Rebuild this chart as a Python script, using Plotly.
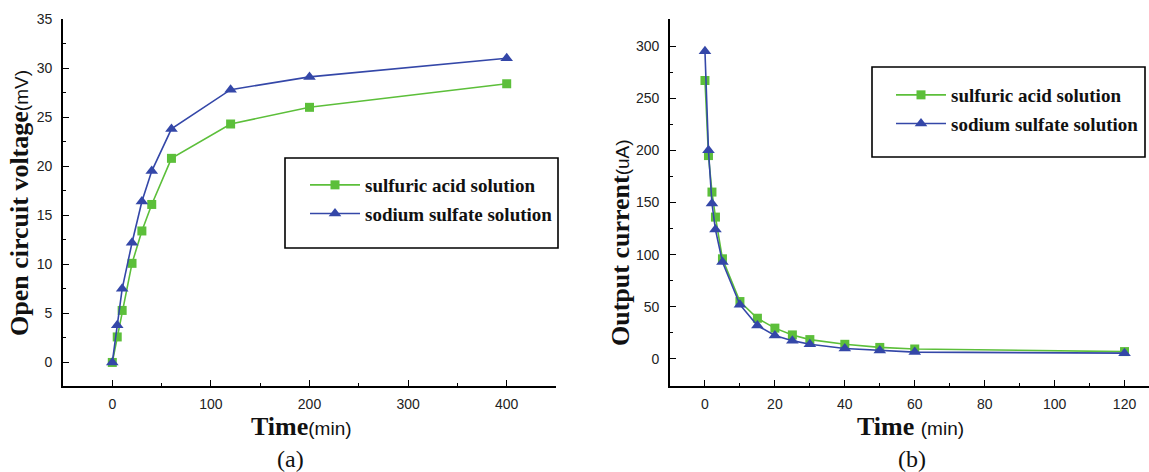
import plotly.graph_objects as go

# ---------------- data ----------------
series_names = ["sulfuric acid solution", "sodium sulfate solution"]

time_a = [0, 5, 10, 20, 30, 40, 60, 120, 200, 400]
voltage_sulfuric = [0, 2.6, 5.3, 10.1, 13.4, 16.1, 20.8, 24.3, 26.0, 28.4]
voltage_sodium = [0, 3.8, 7.5, 12.2, 16.4, 19.5, 23.8, 27.8, 29.1, 31.0]

time_b = [0, 1, 2, 3, 5, 10, 15, 20, 25, 30, 40, 50, 60, 120]
current_sulfuric = [267, 195, 160, 136, 96, 55, 39, 29.5, 23, 18.5, 14, 11, 9.5, 7]
current_sodium = [295, 200, 149, 124, 93, 52, 32, 22.5, 17.5, 14, 10, 8, 6.5, 5.5]

xticks_a = [0, 100, 200, 300, 400]
yticks_a = [0, 5, 10, 15, 20, 25, 30, 35]
xticks_b = [0, 20, 40, 60, 80, 100, 120]
yticks_b = [0, 50, 100, 150, 200, 250, 300]

# ---------------- style ----------------
W, H = 1149, 472
GREEN = "#5cbf3a"
BLUE = "#3447a8"
SERIF = "Liberation Serif, Times New Roman, serif"
SANS = "Liberation Sans, Arial, sans-serif"


def px_x(p):
    return p / W


def px_y(p):
    return (H - p) / H


fig = go.Figure()

common_line = dict(width=1.6)
fig.add_trace(go.Scatter(x=time_a, y=voltage_sulfuric, name=series_names[0], mode="lines+markers",
                         line=dict(color=GREEN, **common_line),
                         marker=dict(symbol="square", size=9, color=GREEN),
                         xaxis="x", yaxis="y", legend="legend", legendgroup="a1"))
fig.add_trace(go.Scatter(x=time_a, y=voltage_sodium, name=series_names[1], mode="lines+markers",
                         line=dict(color=BLUE, **common_line),
                         marker=dict(symbol="triangle-up", size=11, color=BLUE),
                         xaxis="x", yaxis="y", legend="legend", legendgroup="a2"))
fig.add_trace(go.Scatter(x=time_b, y=current_sulfuric, name=series_names[0], mode="lines+markers",
                         line=dict(color=GREEN, **common_line),
                         marker=dict(symbol="square", size=9, color=GREEN),
                         xaxis="x2", yaxis="y2", legend="legend2", legendgroup="b1"))
fig.add_trace(go.Scatter(x=time_b, y=current_sodium, name=series_names[1], mode="lines+markers",
                         line=dict(color=BLUE, **common_line),
                         marker=dict(symbol="triangle-up", size=11, color=BLUE),
                         xaxis="x2", yaxis="y2", legend="legend2", legendgroup="b2"))

ydom = [px_y(386), px_y(19)]


def axis_style(**kw):
    d = dict(showline=True, linecolor="black", linewidth=1.6, mirror=False,
             showgrid=False, zeroline=False, ticks="inside", ticklen=6,
             tickwidth=1.4, tickcolor="black",
             tickfont=dict(family=SANS, size=14, color="#222"),
             minor=dict(ticks="inside", ticklen=3.5, tickwidth=1.2, tickcolor="black"))
    d.update(kw)
    return d


legend_font = dict(family=SERIF, size=19, color="#111", weight="bold")

fig.update_layout(
    width=W, height=H,
    margin=dict(l=0, r=0, t=0, b=0, autoexpand=False),
    paper_bgcolor="white", plot_bgcolor="white",
    xaxis=axis_style(domain=[px_x(63), px_x(556)], range=[-50, 450], anchor="y",
                     tickvals=xticks_a, ticktext=[str(v) for v in xticks_a],
                     minor_tickvals=[-50, 50, 150, 250, 350, 450], ticklabelstandoff=4),
    yaxis=axis_style(domain=ydom, range=[-2.4, 35], anchor="x",
                     tickvals=yticks_a, ticktext=[str(v) for v in yticks_a],
                     minor_tickvals=[2.5, 7.5, 12.5, 17.5, 22.5, 27.5, 32.5], ticklabelstandoff=6),
    xaxis2=axis_style(domain=[px_x(670), 1.0], range=[-10, 127], anchor="y2",
                      tickvals=xticks_b, ticktext=[str(v) for v in xticks_b],
                      minor_tickvals=[10, 30, 50, 70, 90, 110], ticklabelstandoff=4),
    yaxis2=axis_style(domain=ydom, range=[-26, 326], anchor="x2",
                      tickvals=yticks_b, ticktext=[str(v) for v in yticks_b],
                      minor_tickvals=[25, 75, 125, 175, 225, 275], ticklabelstandoff=6),
    legend=dict(x=px_x(305), y=px_y(166), xanchor="left", yanchor="top",
                bgcolor="rgba(0,0,0,0)", borderwidth=0, tracegroupgap=1,
                font=legend_font, itemwidth=50),
    legend2=dict(x=px_x(891), y=px_y(76), xanchor="left", yanchor="top",
                 bgcolor="rgba(0,0,0,0)", borderwidth=0, tracegroupgap=1,
                 font=legend_font, itemwidth=50),
    showlegend=True,
)

# legend frames
fig.add_shape(type="rect", xref="paper", yref="paper",
              x0=px_x(285), x1=px_x(558), y0=px_y(248), y1=px_y(158),
              line=dict(color="black", width=1.6))
fig.add_shape(type="rect", xref="paper", yref="paper",
              x0=px_x(872), x1=px_x(1145), y0=px_y(157), y1=px_y(67),
              line=dict(color="black", width=1.6))

unit_span = '<span style="font-family:Liberation Sans, Arial, sans-serif;font-size:19px;font-weight:normal">{}</span>'

annotations = [
    dict(text="<b>Open circuit voltage</b>" + unit_span.format("(mV)"), x=px_x(20), y=px_y(203),
         textangle=-90),
    dict(text="<b>Output current</b>" + unit_span.format("(uA)"), x=px_x(620), y=px_y(243),
         textangle=-90),
    dict(text="<b>Time</b>" + unit_span.format("(min)"), x=px_x(301), y=px_y(426)),
    dict(text="<b>Time</b> " + unit_span.format("(min)"), x=px_x(910), y=px_y(426)),
]
for a in annotations:
    fig.add_annotation(xref="paper", yref="paper", showarrow=False,
                       xanchor="center", yanchor="middle",
                       font=dict(family=SERIF, size=26, color="#111"), **a)

for txt, cx in [("(a)", 290), ("(b)", 912)]:
    fig.add_annotation(xref="paper", yref="paper", showarrow=False, text=txt,
                       x=px_x(cx), y=px_y(459), xanchor="center", yanchor="middle",
                       font=dict(family=SERIF, size=24, color="#111"))

fig.write_html("out.html",
               config={"displayModeBar": False},
               post_script="document.body.style.margin='0px';document.body.style.overflow='hidden';")
